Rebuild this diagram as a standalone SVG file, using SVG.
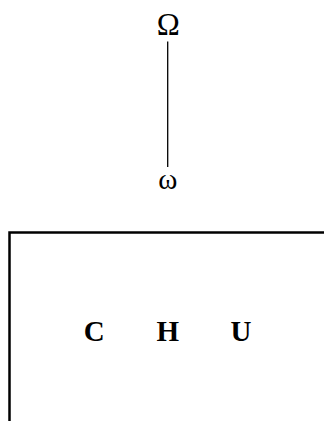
<svg xmlns="http://www.w3.org/2000/svg" width="324" height="421" viewBox="0 0 324 421">
  <style>
    .sym { font-family: "Liberation Serif", "Times New Roman", serif; font-size: 29px; fill: #000; text-anchor: middle; }
    .big { font-size: 31px; }
    .lbl { font-family: "Liberation Serif", "Times New Roman", serif; font-size: 29px; font-weight: bold; fill: #000; text-anchor: middle; }
    .edge { stroke: #000; stroke-width: 1.3; fill: none; }
    .frame { stroke: #000; stroke-width: 2.5; fill: none; }
  </style>
  <rect width="324" height="421" fill="#fff"/>
  <g id="connectors">
    <line class="edge" x1="167.7" y1="41.5" x2="167.7" y2="167"/>
  </g>
  <g id="node-omega-upper">
    <text class="sym big" x="168.3" y="34.5">Ω</text>
  </g>
  <g id="node-omega-lower">
    <text class="sym" x="167.7" y="188.5">ω</text>
  </g>
  <g id="node-chu">
    <path class="frame" d="M 324 232.5 H 9.5 V 421"/>
    <text class="lbl" x="94.3" y="341">C</text>
    <text class="lbl" x="167.7" y="341">H</text>
    <text class="lbl" x="241" y="341">U</text>
  </g>
</svg>
